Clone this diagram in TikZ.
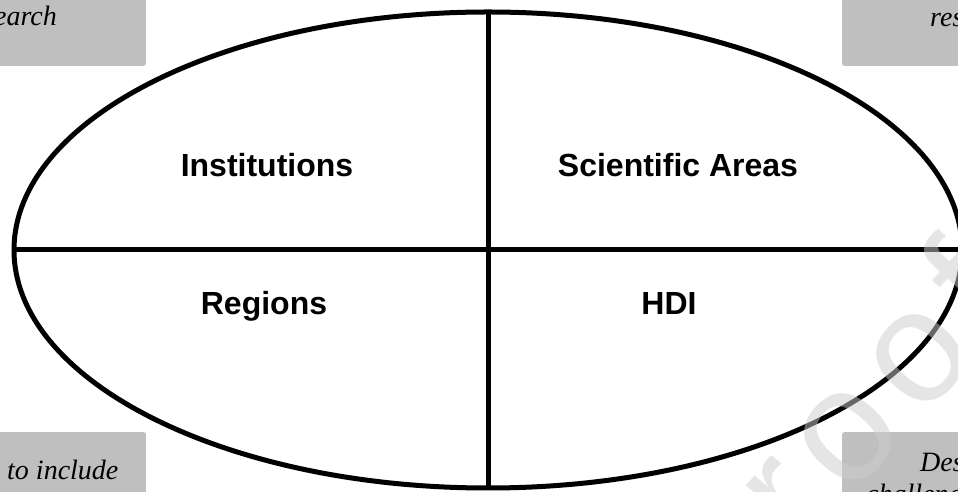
\documentclass[tikz,border=0pt]{standalone}
\usepackage{fontspec}
\setmainfont{Liberation Serif}
\setsansfont{Liberation Sans}
\newfontfamily\wmfont[LetterSpace=11.25]{Liberation Sans}
\usetikzlibrary{shapes.geometric}
\definecolor{boxgray}{RGB}{191,191,191}
\definecolor{wmgray}{RGB}{205,205,205}
\begin{document}
\begin{tikzpicture}[x=1pt,y=1pt,
  cell/.style={font=\sffamily\bfseries\fontsize{32}{38}\selectfont, anchor=base, inner sep=0pt},
  notebox/.style={fill=boxgray, rounded corners=2pt, minimum width=160pt, minimum height=80pt, inner sep=0pt},
  notetext/.style={font=\itshape\fontsize{28}{32}\selectfont, inner sep=0pt},
  thick line/.style={line width=5pt},
  watermark/.style={font=\wmfont\fontsize{160}{160}\selectfont, text=wmgray, text opacity=0.5, inner sep=0pt}
]
\useasboundingbox (0,0) rectangle (958,492);
\clip (0,0) rectangle (958,492);
\fill[white] (0,0) rectangle (958,492);

% corner boxes
\node[notebox, anchor=south east] (tl) at (146,426) {};
\node[notebox, anchor=south west] (tr) at (842,426) {};
\node[notebox, anchor=north east] (bl) at (146,60) {};
\node[notebox, anchor=north west] (br) at (842,60) {};

\node[notetext, anchor=base east] (t1) at (57,466) {earch};
\node[notetext, anchor=base west] (t2) at (930,465) {res};
\node[notetext, anchor=base west] (t3) at (7,12) {to include};
\node[notetext, anchor=base west] (t4) at (920,20) {Des};
\node[notetext, anchor=base west] (t5) at (866,-12) {challenges};

% ellipse and dividing lines
\node[draw, ellipse, thick line, minimum width=948pt, minimum height=476pt, inner sep=0pt, outer sep=0pt] (E) at (488,242) {};
\draw[thick line] (E.north) -- (E.south);
\draw[thick line] (E.west) -- (E.east);

% quadrant labels
\node[cell] (inst) at (267,315) {Institutions};
\node[cell] (sci) at (678,315) {Scientific Areas};
\node[cell] (reg) at (264,177) {Regions};
\node[cell] (hdi) at (669,177) {HDI};

% watermark
\node[watermark, rotate=47.7, anchor=base west] (wm) at (801,-59) {roof};
\end{tikzpicture}
\end{document}
